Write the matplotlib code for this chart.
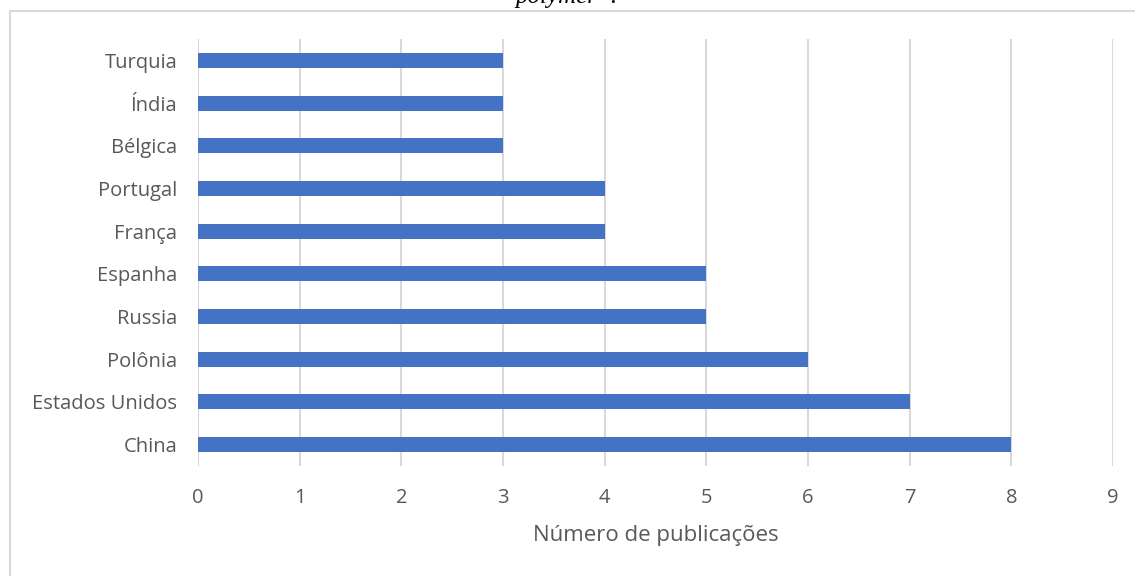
import matplotlib
matplotlib.use("Agg")
import matplotlib.pyplot as plt
from matplotlib.patches import Rectangle

countries = ["China", "Estados Unidos", "Polônia", "Russia", "Espanha",
             "França", "Portugal", "Bélgica", "Índia", "Turquia"]
publications = [8, 7, 6, 5, 5, 4, 4, 3, 3, 3]
xticks = [0, 1, 2, 3, 4, 5, 6, 7, 8, 9]
xlabel = "Número de publicações"
caption_fragment = "polymer\u201d."

W, H = 1135, 576
fig = plt.figure(figsize=(W / 100, H / 100), dpi=100)
plt.rcParams['font.family'] = ['Open Sans', 'DejaVu Sans']

# chart border (right and bottom edges lie outside the picture)
fig.patches.append(Rectangle((9.5 / W, -0.1), 1.2, (H - 10.5) / H + 0.1, transform=fig.transFigure,
                             fill=False, edgecolor="#d9d9d9", linewidth=1.5))

ax = fig.add_axes([198 / W, (H - 466) / H, (1113 - 198) / W, (466 - 39) / H])
ax.barh(range(len(countries)), publications, height=0.35, color="#4472c4", zorder=3)
ax.set_xlim(0, 9)
ax.set_ylim(-0.5, len(countries) - 0.5)
ax.set_xticks(xticks)
ax.set_xticklabels([str(t) for t in xticks])
ax.set_yticks(range(len(countries)))
ax.set_yticklabels(countries)
ax.grid(axis="x", color="#d9d9d9", linewidth=1.5, zorder=0)
for s in ax.spines.values():
    s.set_visible(False)
ax.tick_params(axis="both", length=0, labelsize=14.5, colors="#595959")
ax.tick_params(axis="x", pad=16)
ax.tick_params(axis="y", pad=15)
ax.set_xlabel(xlabel, fontsize=16, color="#595959", labelpad=12)

fig.text(567 / W, 1 - 3 / H, caption_fragment, family=["Liberation Serif", "DejaVu Serif"],
         style="italic", fontsize=18, ha="center", va="baseline")

fig.savefig("out.png", dpi=100, facecolor="white")
